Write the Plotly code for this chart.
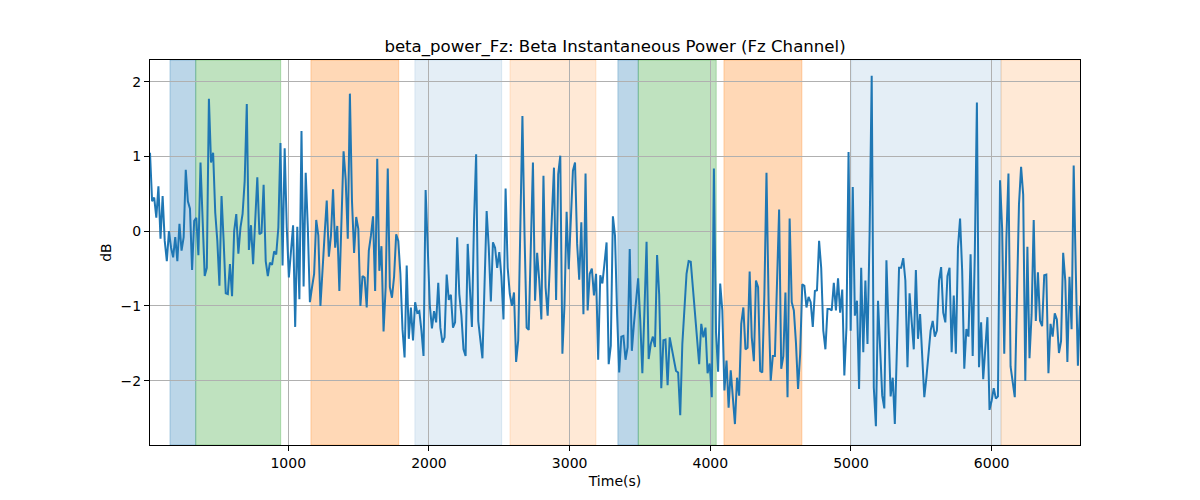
import numpy as np
import plotly.graph_objects as go

# ---- data ----
t_start = 17
t_end = 6628

seg1 = [1.05, 0.4, 0.45, 0.18, 0.6, -0.1, 0.47, -0.13, -0.4, 0, -0.22, -0.35, -0.08, -0.4, 0.1, -0.26, -0.08,
        0.82, 0.4, 0.3, -0.52, 0.14, 0.18, -0.32, 0.92, 0.05, -0.6, -0.49, 1.77, 0.92, 1.05, 0.25, -0.13, -0.73,
        0.47, -0.13, -0.83, -0.84, -0.44, -0.87, 0, 0.23, -0.3, 0.05, 0.23, 0.67, 1.7, -0.25, 0.08, -0.44, 0.23,
        0.72, -0.04, -0.02, 0.62, -0.4]
seg2 = [-0.6, -0.42, -0.45, -0.27, -0.31, 0.05, 1.18, -0.46, 1.11, 0.05, -0.62, -0.31, 0.08, -1.28, 0.06, -0.91,
        1.34, -0.74, 0.78, 0.05, -0.95, -0.75, -0.57, 0.15, -0.06, -1.0, -0.46, -0.04, 0.41, -0.34, -0.06, 0.56,
        -0.22, 0.07, -0.8, 0.14, 1.07, 0.69, -0.1, 1.84, 0.4, -0.29, 0.19, 0.03, -1.0, -0.6, -0.62, -1.02, -0.26,
        -0.06, 0.2, -0.8, 0.97, -0.53]
seg3 = [-0.2, -1.34, -0.75, 0.84, -0.75, -0.89, -0.61, -0.04, -0.13, -0.57, -1.31, -1.69, -0.46, -1.44, -1.02,
        -1.46, -0.95, -1.09, -1.07, -1.33, -1.67, 0.55, -0.31, -1.0, -1.3, -1.07, -1.22, -0.69, -1.29, -1.49, -1.42,
        -0.58, -0.92, -0.85, -1.29, -1.22, -0.08, -0.84, -1.13, -1.58, -1.67, -0.17, -0.75, -1.28, 0.14, 1.03, -1.2,
        -1.42, -1.7, -0.71, 0.27, -0.22, -0.94, -0.15, -0.22]
seg4 = [-0.49, -0.28, -0.6, -1.18, 0.57, -0.49, -0.84, -1.0, -0.82, -1.75, -1.46, -0.04, 1.54, -0.04, -1.29, -1.32,
        -0.22, 0.92, -0.93, -0.29, -0.66, -1.18, 0.74, -0.75, -1.13, -0.4, 0.32, 0.85, -0.92, 0.76, 1.01, -1.64,
        -0.98, 0.26, -0.51, 0.14, 0.81, 0.92, -0.17, -0.65, 0.12, -1.11, 0.77, -1.06, -0.57, -0.5, -0.86, -0.57,
        -1.72, -0.59, -0.7, -0.43, -0.15, -1.78, -1.53]
seg5 = [0.2, -0.06, -1.11, -1.89, -1.41, -1.4, -1.72, -1.55, -0.24, -1.6, -1.24, -0.89, -0.63, -1.2, -1.9, -1.06,
        -0.14, -1.71, -1.51, -1.41, -1.55, -0.32, -0.85, -2.1, -1.46, -1.45, -2.06, -1.42, -1.58, -1.71, -1.87,
        -1.89, -2.46, -1.51, -0.98, -0.57, -0.4, -0.41, -0.75, -1.11, -1.38, -1.78, -1.24, -1.42, -1.29, -1.9,
        -1.77, -2.22, 0.84, -1.35, -1.88, -0.7, -1.06, -2.13]
seg6 = [-1.73, -2.36, -1.86, -2.18, -2.58, -1.96, -2.2, -1.24, -1.02, -1.58, -1.56, -0.54, -1.42, -1.74, -0.66,
        -0.75, -1.87, -1.89, -0.84, 0.78, -0.95, -2.0, -1.67, -1.67, -0.82, 0.29, -1.84, -1.67, -0.82, -2.22, 0.17,
        -0.95, -1.06, -1.49, -2.11, -1.64, -0.71, -0.73, -1.02, -0.88, -0.95, -1.28, -0.8, -0.79, -0.13, -0.49,
        -1.33, -1.58, -1.04, -1.04, -1.06, -0.69, -1.06, -0.63, -1.09]
seg7 = [-0.78, -1.93, -1.29, 1.06, -1.33, 0.59, -1.13, -0.93, -2.11, -0.49, -1.62, -0.66, -1.51, -0.04, 2.08,
        -2.09, -2.61, -0.93, -1.55, -2.2, -2.37, -0.39, -1.29, -2.21, -1.96, -2.58, -1.55, -0.49, -0.49, -0.36,
        -0.66, -1.82, -0.83, -1.16, -1.58, -0.52, -1.44, -1.11, -1.78, -2.22, -1.96, -1.64, -1.33, -1.2, -1.41,
        -1.33, -0.66, -0.48, -1.09, -1.22, -0.6, -0.49, -1.62, -0.86, -1.64]
seg8 = [-0.22, 0.17, -0.53, -1.84, -1.31, -1.41, -0.31, -1.67, -0.31, 1.72, -1.82, -1.22, -1.98, -1.55, -1.15,
        -2.39, -2.27, -2.1, -2.24, -2.21, 0.68, 0.03, -1.64, -0.11, 0.77, -1.81, -2.05, -2.22, -0.93, 0.36, 0.86,
        0.49, -2.0, -0.21, -1.7, -1.11, 0.15, -1.2, -0.55, -1.2, -1.27, -0.59, -0.58, -1.9, -1.24, -1.41, -1.1,
        -1.18, -1.63, -1.47, -0.29, -0.66, -1.75, -0.61, -1.31, 0.88, -0.53, -1.8, -1.0]

# shaded intervals: (start, end, kind)
span_starts = [159, 342, 1161, 1900, 2576, 3343, 3488, 4097, 5004, 6067]
span_ends = [342, 946, 1785, 2517, 3187, 3488, 4042, 4651, 6067, 6640]
span_kinds = ["blue", "green", "orange", "lightblue", "lightorange",
              "blue", "green", "orange", "lightblue", "lightorange"]

x_ticks = [1000, 2000, 3000, 4000, 5000, 6000]
y_ticks = [-2, -1, 0, 1, 2]

# ---- build ----
values = np.array(seg1 + seg2 + seg3 + seg4 + seg5 + seg6 + seg7 + seg8)
times = np.linspace(t_start, t_end, len(values))

kind_color = {
    "blue": (31, 119, 180, 0.30),
    "green": (44, 160, 44, 0.30),
    "orange": (255, 127, 14, 0.30),
    "lightblue": (31, 119, 180, 0.12),
    "lightorange": (255, 127, 14, 0.17),
}

fig = go.Figure()
fig.add_trace(go.Scatter(x=times, y=values, mode="lines",
                         line=dict(color="#1f77b4", width=2), showlegend=False,
                         hoverinfo="x+y"))

for s, e, k in zip(span_starts, span_ends, span_kinds):
    r, g, b, a = kind_color[k]
    fig.add_shape(type="rect", xref="x", yref="paper", x0=s, x1=e, y0=0, y1=1,
                  fillcolor=f"rgba({r},{g},{b},{a})",
                  line=dict(color=f"rgba({r},{g},{b},{a})", width=1),
                  layer="below")

# page body has an 8px margin, so the layout is offset to compensate
font_family = "DejaVu Sans, Liberation Sans, sans-serif"
fig.update_layout(
    width=1200, height=500,
    margin=dict(l=142, r=128, t=52, b=63),
    paper_bgcolor="white", plot_bgcolor="white",
    font=dict(family=font_family, size=14, color="black"),
    title=dict(text="beta_power_Fz: Beta Instantaneous Power (Fz Channel)",
               x=607 / 1200, xanchor="center", xref="container",
               y=1 - 38 / 500, yanchor="middle", yref="container",
               font=dict(size=16.6, color="black")),
)
fig.update_xaxes(range=[t_start, t_end], tickvals=x_ticks,
                 showgrid=True, gridcolor="#b0b0b0", gridwidth=1,
                 showline=True, linecolor="black", linewidth=1.2, mirror=True,
                 ticks="outside", ticklen=5, tickcolor="black", tickwidth=1,
                 zeroline=False,
                 title=dict(text="Time(s)", standoff=6, font=dict(size=14)))
fig.update_yaxes(range=[-2.86, 2.29], tickvals=y_ticks,
                 showgrid=True, gridcolor="#b0b0b0", gridwidth=1,
                 showline=True, linecolor="black", linewidth=1.2, mirror=True,
                 ticks="outside", ticklen=5, tickcolor="black", tickwidth=1,
                 zeroline=False,
                 title=dict(text="dB", standoff=5, font=dict(size=14)))

fig.write_html("out.html")
